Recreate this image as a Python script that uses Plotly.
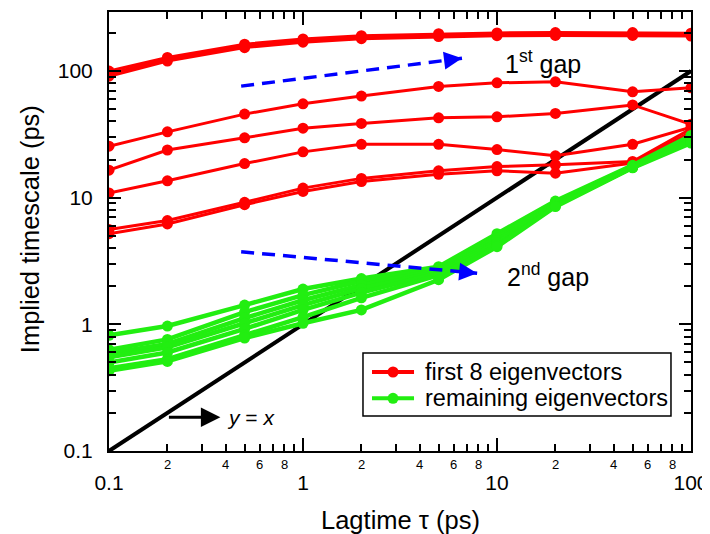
import math
import plotly.graph_objects as go

# ---------------- data ----------------
lagtime = [0.1, 0.2, 0.5, 1, 2, 5, 10, 20, 50, 100]

# first 8 eigenvectors (red)
red_1 = [100, 128, 163, 179, 190, 197, 200, 201, 201, 199]
red_2 = [95, 124, 158, 174, 185, 192, 195, 196, 196, 194]
red_3 = [91, 120, 153, 169, 180, 187, 190, 191, 191, 189]
red_4 = [25.5, 33.1, 45.7, 55.1, 63.4, 75.5, 80.7, 82.2, 68.5, 73.7]
red_5 = [16.5, 23.8, 29.7, 35.4, 38.6, 42.7, 43.5, 46.3, 54.0, 38.0]
red_6 = [10.9, 13.6, 18.6, 23.0, 26.4, 26.4, 24.0, 21.4, 26.4, 36.0]
red_7 = [5.6, 6.6, 9.2, 11.9, 14.2, 16.3, 17.6, 18.2, 19.3, 35.0]
red_8 = [5.2, 6.2, 8.8, 11.2, 13.4, 15.3, 16.3, 15.6, 18.8, 33.0]

# remaining eigenvectors (green)
green_1 = [0.82, 0.97, 1.42, 1.90, 2.30, 2.85, 5.2, 9.4, 18.0, 31.0]
green_2 = [0.63, 0.76, 1.25, 1.70, 2.20, 2.78, 5.0, 9.2, 17.8, 30.0]
green_3 = [0.59, 0.70, 1.12, 1.55, 2.05, 2.70, 4.8, 9.0, 17.6, 29.5]
green_4 = [0.55, 0.66, 1.02, 1.42, 1.92, 2.62, 4.6, 8.9, 17.5, 29.0]
green_5 = [0.50, 0.60, 0.92, 1.30, 1.78, 2.55, 4.4, 8.8, 17.4, 28.5]
green_6 = [0.45, 0.53, 0.82, 1.14, 1.62, 2.45, 4.2, 8.6, 17.3, 28.0]
green_7 = [0.43, 0.51, 0.78, 1.02, 1.30, 2.25, 4.1, 8.5, 17.2, 27.0]

# y = x reference line
diag_x = [0.1, 100]
diag_y = [0.1, 100]

# "gap" arrows (start, tip)
gap1_x = [0.48, 6.6]
gap1_y = [76, 126]
gap2_x = [0.48, 7.9]
gap2_y = [3.74, 2.53]

major_ticks = [0.1, 1, 10, 100]
major_labels = ["0.1", "1", "10", "100"]
minor_label_digits = [2, 4, 6, 8]
decades = [0.1, 1, 10]

legend_names = ["first 8 eigenvectors", "remaining eigenvectors"]

FONT = "Liberation Sans, Arial, sans-serif"
RED = "#ff0000"
GREEN = "#22ee11"
BLUE = "#0000ff"

fig = go.Figure()

# black y=x line
fig.add_trace(go.Scatter(x=diag_x, y=diag_y, mode="lines",
                         line=dict(color="black", width=4), showlegend=False,
                         hoverinfo="skip"))

red_series = [red_1, red_2, red_3, red_4, red_5, red_6, red_7, red_8]
for i, s in enumerate(red_series):
    fig.add_trace(go.Scatter(
        x=lagtime, y=s, mode="lines+markers",
        line=dict(color=RED, width=3), marker=dict(color=RED, size=11),
        name=legend_names[0], showlegend=False))

green_series = [green_1, green_2, green_3, green_4, green_5, green_6, green_7]
for i, s in enumerate(green_series):
    fig.add_trace(go.Scatter(
        x=lagtime, y=s, mode="lines+markers",
        line=dict(color=GREEN, width=4.5), marker=dict(color=GREEN, size=11),
        name=legend_names[1], showlegend=False))

# blue dashed arrow shafts
for gx, gy in [(gap1_x, gap1_y), (gap2_x, gap2_y)]:
    fig.add_trace(go.Scatter(x=gx, y=gy, mode="lines",
                             line=dict(color=BLUE, width=3.5, dash="13px,8px"),
                             showlegend=False, hoverinfo="skip"))

annotations = []
shapes = []
# arrow heads for the gaps
for gx, gy in [(gap1_x, gap1_y), (gap2_x, gap2_y)]:
    lx0, ly0 = math.log10(gx[0]), math.log10(gy[0])
    lx1, ly1 = math.log10(gx[1]), math.log10(gy[1])
    annotations.append(dict(
        x=lx1, y=ly1, ax=lx1 - (lx1 - lx0) * 0.07, ay=ly1 - (ly1 - ly0) * 0.07,
        xref="x", yref="y", axref="x", ayref="y", text="", showarrow=True,
        arrowhead=2, arrowsize=1.8, arrowwidth=2, arrowcolor=BLUE))

annotations.append(dict(x=math.log10(10.7), y=math.log10(118), xref="x", yref="y",
                        text="1<sup>st</sup> gap", showarrow=False, xanchor="left",
                        yanchor="middle", font=dict(family=FONT, size=25, color="black")))
annotations.append(dict(x=math.log10(11.0), y=math.log10(2.45), xref="x", yref="y",
                        text="2<sup>nd</sup> gap", showarrow=False, xanchor="left",
                        yanchor="middle", font=dict(family=FONT, size=25, color="black")))

# y = x label with small arrow
annotations.append(dict(x=math.log10(0.375), y=math.log10(0.185),
                        ax=math.log10(0.2), ay=math.log10(0.185),
                        xref="x", yref="y", axref="x", ayref="y", text="",
                        showarrow=True, arrowhead=2, arrowsize=1.3, arrowwidth=3,
                        arrowcolor="black"))
annotations.append(dict(x=math.log10(0.395), y=math.log10(0.185), xref="x", yref="y",
                        text="<i>y</i> = <i>x</i>", showarrow=False, xanchor="left",
                        yanchor="middle", font=dict(family=FONT, size=21, color="black")))

# minor x labels 2,4,6,8
for d in decades:
    for m in minor_label_digits:
        annotations.append(dict(x=math.log10(d * m), y=-0.03, xref="x", yref="paper",
                                text=str(m), showarrow=False, yanchor="middle",
                                font=dict(family=FONT, size=13, color="black")))

# axis titles
annotations.append(dict(x=0.5, y=-0.157, xref="paper", yref="paper",
                        text="Lagtime τ (ps)", showarrow=False, yanchor="middle",
                        font=dict(family=FONT, size=25.5, color="black")))
annotations.append(dict(x=-0.136, y=0.505, xref="paper", yref="paper",
                        text="Implied timescale (ps)", showarrow=False, textangle=-90,
                        xanchor="center", yanchor="middle",
                        font=dict(family=FONT, size=25.5, color="black")))

# hand-drawn legend box
shapes.append(dict(type="rect", xref="paper", yref="paper",
                   x0=0.4364, x1=0.9656, y0=0.0797, y1=0.2232,
                   line=dict(color="black", width=1.5), fillcolor="white", layer="above"))
for name, col, yy in [(legend_names[0], RED, 0.180), (legend_names[1], GREEN, 0.120)]:
    shapes.append(dict(type="line", xref="paper", yref="paper",
                       x0=0.4519, x1=0.5241, y0=yy, y1=yy,
                       line=dict(color=col, width=4), layer="above"))
    shapes.append(dict(type="circle", xref="paper", yref="paper",
                       x0=0.4880 - 0.0095, x1=0.4880 + 0.0095,
                       y0=yy - 0.0126, y1=yy + 0.0126,
                       line=dict(color=col, width=0), fillcolor=col, layer="above"))
    annotations.append(dict(x=0.5395, y=yy, xref="paper", yref="paper", text=name,
                            showarrow=False, xanchor="left", yanchor="middle",
                            font=dict(family=FONT, size=23.5, color="black")))

minor_ticks = [d * m for d in [0.1, 1, 10, 100] for m in range(2, 10)]

axis_common = dict(type="log", showgrid=False, zeroline=False, showline=True,
                   linecolor="black", linewidth=2, mirror="allticks",
                   ticks="inside", tickcolor="black", tickwidth=1.5,
                   tickvals=major_ticks, ticktext=major_labels, automargin=False,
                   tickfont=dict(family=FONT, size=21, color="black"),
                   minor=dict(ticks="inside", ticklen=7, tickwidth=1.5,
                              tickcolor="black", tickvals=minor_ticks, showgrid=False))

# page body has an 8px margin, so the figure is 8px smaller than the window
fig.update_layout(
    width=702, height=526,
    margin=dict(l=101, r=19, t=4, b=83),
    plot_bgcolor="white", paper_bgcolor="white",
    font=dict(family=FONT, color="black"),
    xaxis=dict(axis_common, range=[-1, 2], ticklen=13, ticklabelstandoff=12),
    yaxis=dict(axis_common, range=[-1, 2.466], ticklen=12, ticklabelstandoff=10),
    annotations=annotations,
    shapes=shapes,
    showlegend=False,
)

fig.write_html("out.html")
